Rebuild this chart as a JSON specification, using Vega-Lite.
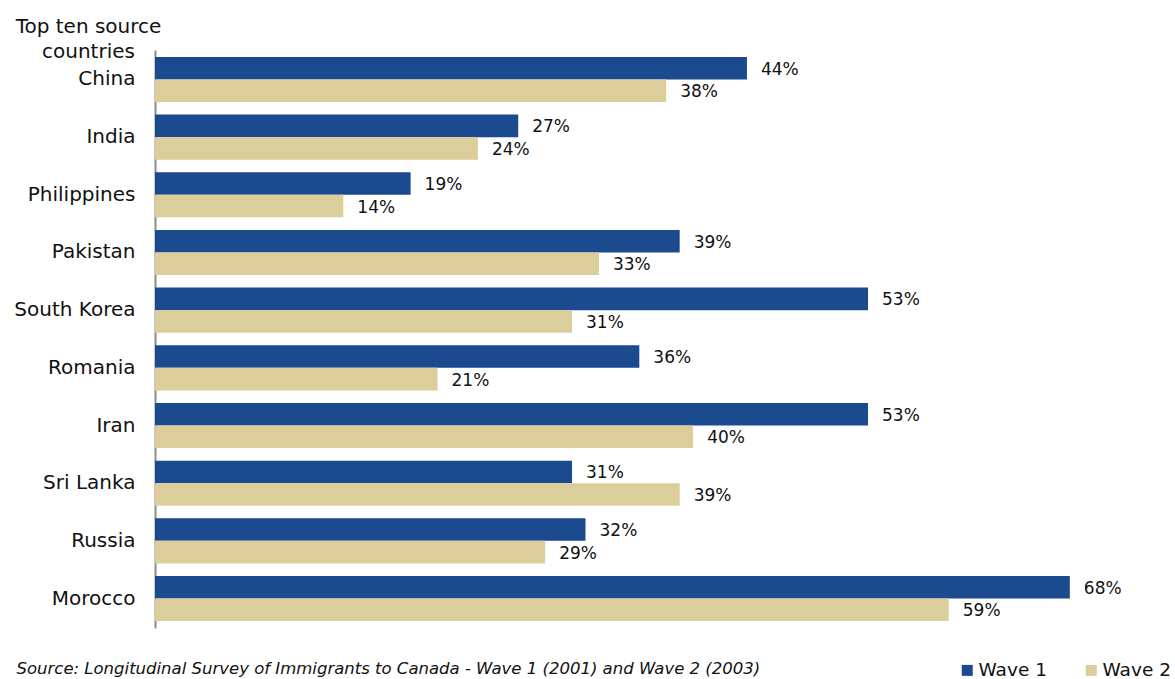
{
  "$schema": "https://vega.github.io/schema/vega-lite/v6.json",
  "width": 1009,
  "height": 578,
  "autosize": "none",
  "padding": {"left": 155, "top": 50, "right": 11, "bottom": 51},
  "background": "white",
  "config": {"view": {"stroke": null}, "font": "DejaVu Sans"},
  "data": {
    "values": [
      {"country": "China", "wave": "Wave 1", "value": 0.44},
      {"country": "China", "wave": "Wave 2", "value": 0.38},
      {"country": "India", "wave": "Wave 1", "value": 0.27},
      {"country": "India", "wave": "Wave 2", "value": 0.24},
      {"country": "Philippines", "wave": "Wave 1", "value": 0.19},
      {"country": "Philippines", "wave": "Wave 2", "value": 0.14},
      {"country": "Pakistan", "wave": "Wave 1", "value": 0.39},
      {"country": "Pakistan", "wave": "Wave 2", "value": 0.33},
      {"country": "South Korea", "wave": "Wave 1", "value": 0.53},
      {"country": "South Korea", "wave": "Wave 2", "value": 0.31},
      {"country": "Romania", "wave": "Wave 1", "value": 0.36},
      {"country": "Romania", "wave": "Wave 2", "value": 0.21},
      {"country": "Iran", "wave": "Wave 1", "value": 0.53},
      {"country": "Iran", "wave": "Wave 2", "value": 0.40},
      {"country": "Sri Lanka", "wave": "Wave 1", "value": 0.31},
      {"country": "Sri Lanka", "wave": "Wave 2", "value": 0.39},
      {"country": "Russia", "wave": "Wave 1", "value": 0.32},
      {"country": "Russia", "wave": "Wave 2", "value": 0.29},
      {"country": "Morocco", "wave": "Wave 1", "value": 0.68},
      {"country": "Morocco", "wave": "Wave 2", "value": 0.59}
    ]
  },
  "encoding": {
    "y": {
      "field": "country",
      "type": "nominal",
      "sort": ["China", "India", "Philippines", "Pakistan", "South Korea", "Romania", "Iran", "Sri Lanka", "Russia", "Morocco"],
      "scale": {"paddingInner": 0.218, "paddingOuter": 0.12},
      "axis": {
        "title": ["Top ten source", "countries"],
        "titleAngle": 0,
        "titleAlign": "center",
        "titleBaseline": "alphabetic",
        "titleX": -67,
        "titleY": -18,
        "titleLineHeight": 25,
        "titleFontSize": 20,
        "titleFontWeight": "normal",
        "titleColor": "#111111",
        "titleFont": "DejaVu Sans",
        "labelFontSize": 20,
        "labelColor": "#111111",
        "labelFont": "DejaVu Sans",
        "labelPadding": 20,
        "ticks": false,
        "domainColor": "#8c8c8c",
        "domainWidth": 2,
        "grid": false
      }
    },
    "yOffset": {
      "field": "wave",
      "type": "nominal",
      "sort": ["Wave 1", "Wave 2"],
      "scale": {"paddingInner": 0, "paddingOuter": 0}
    },
    "x": {
      "field": "value",
      "type": "quantitative",
      "scale": {"domain": [0, 0.75], "nice": false},
      "axis": {
        "title": "Source: Longitudinal Survey  of Immigrants to Canada - Wave 1 (2001) and Wave 2 (2003)",
        "labels": false,
        "ticks": false,
        "domain": false,
        "grid": false,
        "titleAnchor": "start",
        "titleAlign": "left",
        "titleBaseline": "alphabetic",
        "titleX": -139,
        "titleY": 45,
        "titleFontSize": 16.5,
        "titleFontStyle": "italic",
        "titleFontWeight": "normal",
        "titleColor": "#111111",
        "titleFont": "DejaVu Sans"
      }
    }
  },
  "layer": [
    {
      "mark": {"type": "bar"},
      "encoding": {
        "color": {
          "field": "wave",
          "type": "nominal",
          "scale": {"domain": ["Wave 1", "Wave 2"], "range": ["#1B4A8F", "#DBCE9B"]},
          "legend": {
            "title": null,
            "orient": "none",
            "legendX": 803,
            "legendY": 611,
            "direction": "horizontal",
            "symbolType": "square",
            "symbolSize": 121,
            "symbolStrokeWidth": 0,
            "labelFontSize": 18.5,
            "labelFont": "DejaVu Sans",
            "labelColor": "#111111",
            "labelOffset": 2,
            "columnPadding": 35,
            "padding": 0
          }
        }
      }
    },
    {
      "mark": {"type": "text", "align": "left", "baseline": "middle", "dx": 14, "dy": 1.5, "fontSize": 17, "color": "#111111", "font": "DejaVu Sans"},
      "encoding": {
        "text": {"field": "value", "type": "quantitative", "format": ".0%"}
      }
    }
  ]
}
